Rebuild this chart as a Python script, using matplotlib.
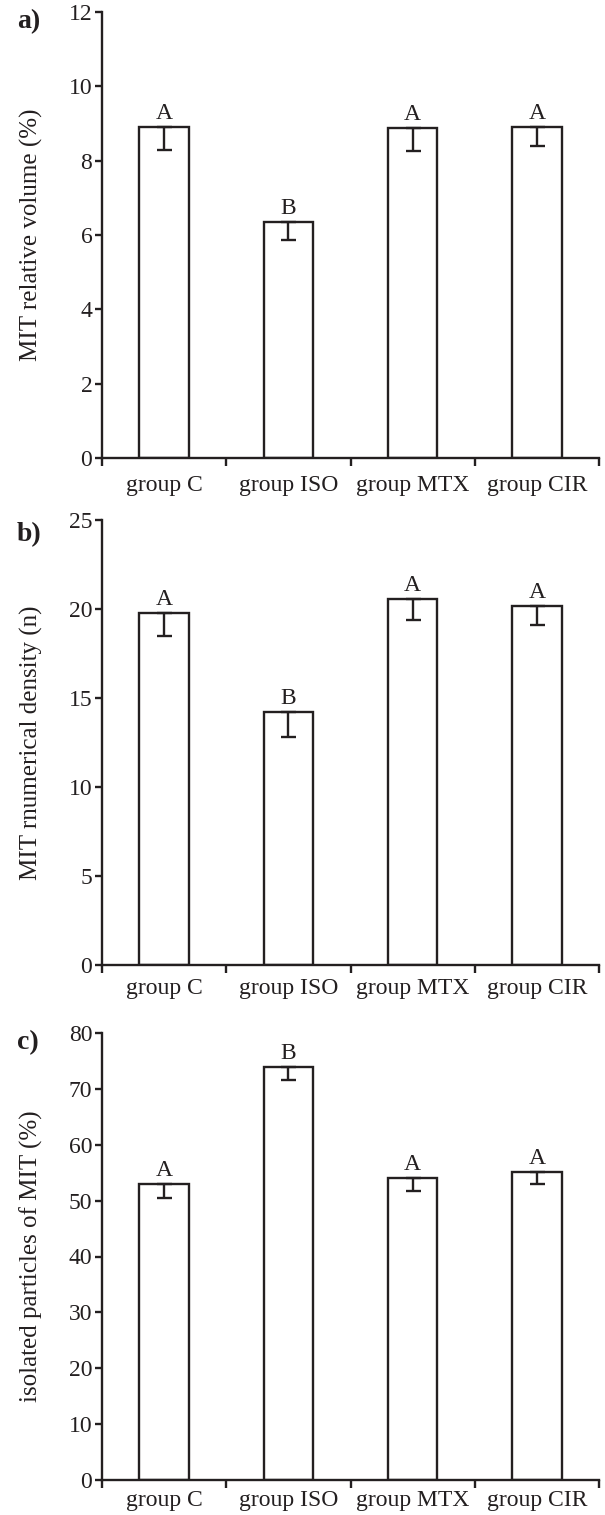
import numpy as np
import matplotlib
matplotlib.use('Agg')
import matplotlib.pyplot as plt

plt.rcParams['font.family'] = ['Liberation Serif', 'DejaVu Serif']

#%% datos
grupos = ['group C', 'group ISO', 'group MTX', 'group CIR']

vol_media = [8.90, 6.35, 8.87, 8.90]
vol_err = [0.62, 0.49, 0.62, 0.51]
vol_letras = ['A', 'B', 'A', 'A']

dens_media = [19.78, 14.20, 20.56, 20.17]
dens_err = [1.30, 1.40, 1.18, 1.07]
dens_letras = ['A', 'B', 'A', 'A']

iso_media = [52.9, 73.9, 54.0, 55.1]
iso_err = [2.5, 2.3, 2.3, 2.2]
iso_letras = ['A', 'B', 'A', 'A']

NEGRO = '#231f20'
LW = 1.7
FS = 17

#%% armado de la figura
fig = plt.figure(figsize=(6.05, 15.15), dpi=100)

paneles = [
    # (rect, media, err, letras, ymax, paso, ylabel, etiqueta, pad, y etiqueta)
    ([102/605, 1-458/1515, 497/605, 446/1515], vol_media, vol_err, vol_letras,
     12, 2, 'MIT relative volume (%)', 'a)', 12, 22),
    ([102/605, 1-965/1515, 497/605, 445/1515], dens_media, dens_err, dens_letras,
     25, 5, 'MIT rnumerical density (n)', 'b)', 9, 535),
    ([102/605, 1-1480/1515, 497/605, 447/1515], iso_media, iso_err, iso_letras,
     80, 10, 'isolated particles of MIT (%)', 'c)', 7.5, 1043),
]

for rect, media, err, letras, ymax, paso, ylab, etiq, pad, ylet in paneles:
    ax = fig.add_axes(rect)
    x = np.arange(len(grupos))
    ax.bar(x, media, width=0.4, color='white', edgecolor=NEGRO, linewidth=LW, zorder=2)
    ax.errorbar(x, media, yerr=[err, np.zeros(len(err))], fmt='none', ecolor=NEGRO,
                elinewidth=LW, capsize=5.4, capthick=LW, zorder=3)
    for xi, yi, l in zip(x, media, letras):
        ax.annotate(l, (xi, yi), xytext=(0, 6), textcoords='offset points',
                    ha='center', va='baseline', fontsize=FS, color=NEGRO)

    ax.set_xlim(-0.5, len(grupos) - 0.5)
    ax.set_ylim(0, ymax)
    ax.set_yticks(np.arange(0, ymax + 1, paso))
    ax.set_xticks(np.arange(len(grupos) + 1) - 0.5)
    ax.set_xticklabels([])
    ax.set_xticks(x, minor=True)
    ax.set_xticklabels(grupos, minor=True)

    ax.spines['top'].set_visible(False)
    ax.spines['right'].set_visible(False)
    for s in ['left', 'bottom']:
        ax.spines[s].set_linewidth(LW)
        ax.spines[s].set_color(NEGRO)

    ax.tick_params(axis='y', direction='out', length=5, width=LW, color=NEGRO,
                   labelsize=FS, labelcolor=NEGRO, pad=2)
    ax.tick_params(axis='x', which='major', direction='out', length=5.5, width=LW,
                   color=NEGRO)
    ax.tick_params(axis='x', which='minor', length=0, labelsize=FS,
                   labelcolor=NEGRO, pad=pad)

    ax.set_ylabel(ylab, fontsize=18, color=NEGRO)
    ax.yaxis.set_label_coords(-0.119, 0.5)

    fig.text(17/605, 1 - ylet/1515, etiq, fontsize=20, fontweight='bold',
             color=NEGRO, ha='left', va='center')

fig.savefig('out.png', dpi=100)
